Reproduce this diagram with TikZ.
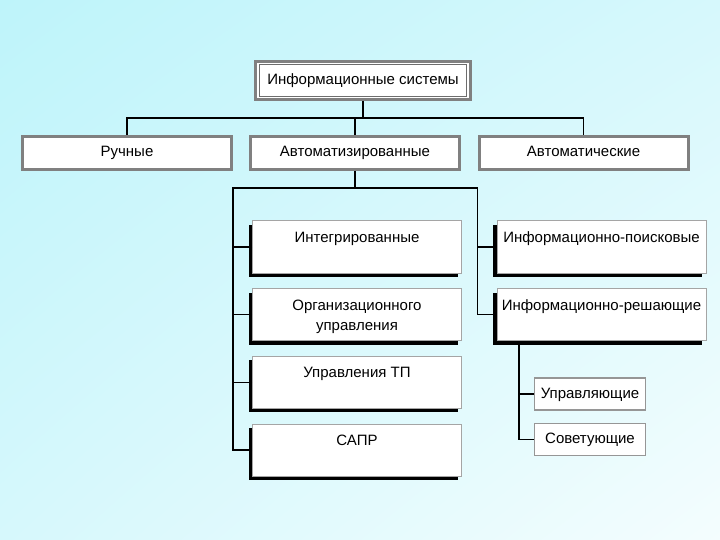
\documentclass[tikz,border=0pt]{standalone}
\usepackage{fontspec}
\setmainfont{Liberation Sans}
\usetikzlibrary{shadows,shadings}
\definecolor{bgA}{RGB}{190,244,250}
\definecolor{bgB}{RGB}{214,248,252}
\definecolor{bgC}{RGB}{244,253,254}
\definecolor{frameg}{RGB}{128,128,128}
\definecolor{thing}{RGB}{165,165,165}
\definecolor{smallg}{RGB}{150,150,150}
\newcommand\toptxt[1]{\parbox[c][52pt][t]{209pt}{\centering\rule{0pt}{21.4pt}#1\par}}
\begin{document}
\begin{tikzpicture}[x=1pt,y=-1pt,
  every node/.style={font=\fontsize{15}{20}\selectfont, inner sep=0pt},
  topbox/.style={draw=frameg, line width=3pt, fill=white, minimum width=215pt, minimum height=38pt, text height=11pt, text depth=3pt},
  rowbox/.style={draw=frameg, line width=3pt, fill=white, minimum width=209pt, minimum height=33pt, text height=11pt, text depth=3pt},
  colbox/.style={draw=thing, line width=1pt, fill=white, general shadow={fill=black, shadow xshift=-4pt, shadow yshift=-4pt}},
  smallbox/.style={draw=smallg, line width=1.5pt, fill=white, minimum width=111pt, minimum height=32pt, text height=11pt, text depth=3pt},
  conn/.style={draw=black, line width=1.1pt},
  innerframe/.style={draw=frameg!85!black, line width=1.3pt}]
\useasboundingbox (0,0) rectangle (720,540);
\shade[upper left=bgA, upper right=bgB, lower left=bgB, lower right=bgC] (0,0) rectangle (720,540);

% nodes
\node[topbox] (top) at (363,80.5) {Информационные системы};
\draw[innerframe] ([shift={(5.5,4.5)}]top.north west) rectangle ([shift={(-5.5,-4.5)}]top.south east);

\node[rowbox] (ruch) at (127,153) {Ручные};
\node[rowbox] (auto) at (355,153) {Автоматизированные};
\node[rowbox] (avtm) at (583.5,153) {Автоматические};

\node[colbox] (integ) at (357,247) {\toptxt{Интегрированные}};
\node[colbox] (org) at (357,314.7) {\toptxt{Организационного\\управления}};
\node[colbox] (utp) at (357,382.3) {\toptxt{Управления ТП}};
\node[colbox] (sapr) at (357,450) {\toptxt{САПР}};

\node[colbox] (infp) at (601.5,247) {\toptxt{Информационно-поисковые}};
\node[colbox] (infr) at (601.5,314.7) {\toptxt{Информационно-решающие}};

\node[smallbox] (upr) at (590,394) {Управляющие};
\node[smallbox] (sov) at (590,439.5) {Советующие};

% connector anchors
\coordinate (hl) at (127,118);
\coordinate (hr) at (583.5,118);
\coordinate (lv) at (233,188);
\coordinate (rv) at (477.5,188);
\coordinate (sv) at (519,394);

% connectors
\draw[conn] (top.south) -- (top.south |- hl);
\draw[conn] (ruch.north) -- (hl) -- (hr) -- (avtm.north);
\draw[conn] (auto.north) -- (auto.north |- hl);

\draw[conn] (auto.south) -- (auto.south |- lv);
\draw[conn] (sapr.west) -| (lv) -- (rv) |- (infr.west);
\draw[conn] (integ.west) -- (integ.west -| lv);
\draw[conn] (org.west) -- (org.west -| lv);
\draw[conn] (utp.west) -- (utp.west -| lv);
\draw[conn] (infp.west) -- (infp.west -| rv);

\draw[conn] (infr.south -| sv) -- (sv |- sov.west) -- (sov.west);
\draw[conn] (upr.west) -- (upr.west -| sv);
\end{tikzpicture}
\end{document}
